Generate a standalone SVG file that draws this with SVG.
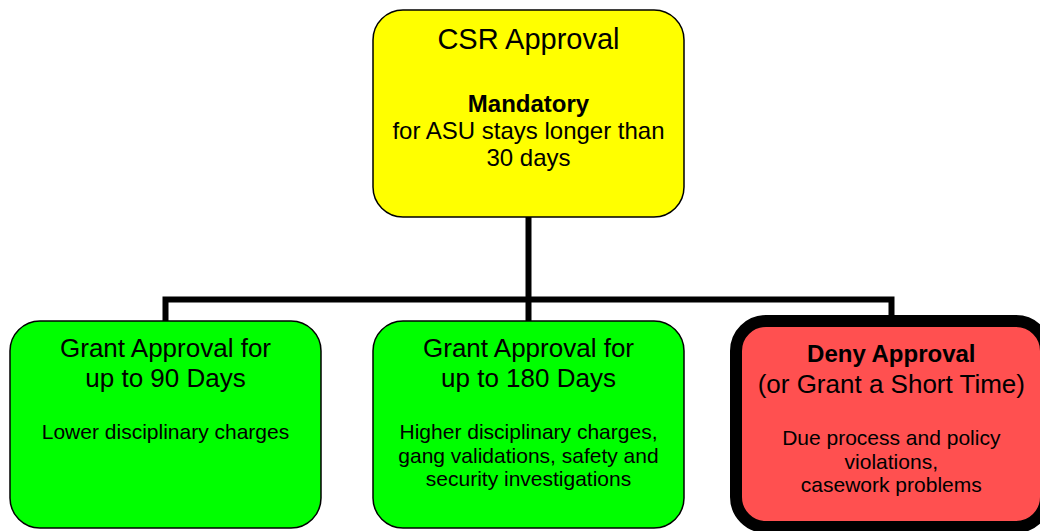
<svg xmlns="http://www.w3.org/2000/svg" width="1040" height="531" viewBox="0 0 1040 531">
<style>
text{font-family:"Liberation Sans",Arial,sans-serif;fill:#000;text-anchor:middle}
.t29{font-size:29px}
.t26{font-size:26px}
.t24{font-size:24px}
.t21{font-size:21px}
.b{font-weight:bold}
.box{stroke:#000;stroke-width:1.5}
.conn{fill:none;stroke:#000;stroke-width:6;stroke-linejoin:miter}
</style>
<rect width="1040" height="531" fill="#fff"/>
<g id="connectors">
<path class="conn" d="M528.5 217V321"/>
<path class="conn" d="M165.5 321V299.5H891.5V321"/>
</g>
<g id="csr">
<rect class="box" x="373" y="10" width="311" height="207" rx="30" fill="#ffff00"/>
<text class="t29" x="528.5" y="48.5">CSR Approval</text>
<text class="t24 b" x="528.5" y="111.5">Mandatory</text>
<text class="t24" x="528.5" y="138.5">for ASU stays longer than</text>
<text class="t24" x="528.5" y="165.7">30 days</text>
</g>
<g id="grant90">
<rect class="box" x="10" y="321" width="311" height="207" rx="30" fill="#00ff00"/>
<text class="t26" x="165.5" y="356.7">Grant Approval for</text>
<text class="t26" x="165.5" y="386.7">up to 90 Days</text>
<text class="t21" x="165.5" y="438.5">Lower disciplinary charges</text>
</g>
<g id="grant180">
<rect class="box" x="373" y="321" width="311" height="207" rx="30" fill="#00ff00"/>
<text class="t26" x="528.5" y="356.7">Grant Approval for</text>
<text class="t26" x="528.5" y="386.7">up to 180 Days</text>
<text class="t21" x="528.5" y="439.3">Higher disciplinary charges,</text>
<text class="t21" x="528.5" y="462.5">gang validations, safety and</text>
<text class="t21" x="528.5" y="485.8">security investigations</text>
</g>
<g id="deny">
<rect x="736" y="321" width="310" height="206" rx="30" fill="#ff5050" stroke="#000" stroke-width="12"/>
<text class="t24 b" x="891.3" y="361.7">Deny Approval</text>
<text class="t26" x="891.3" y="392.8">(or Grant a Short Time)</text>
<text class="t21" x="891.3" y="445">Due process and policy</text>
<text class="t21" x="891.3" y="468.5">violations,</text>
<text class="t21" x="891.3" y="492">casework problems</text>
</g>
</svg>
